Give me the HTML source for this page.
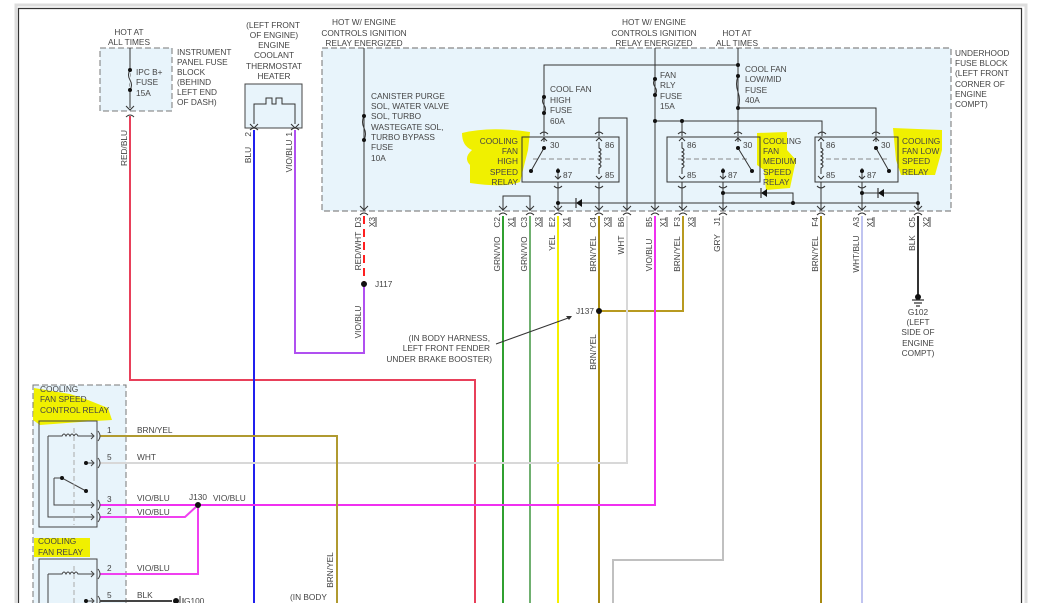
<!DOCTYPE html>
<html><head><meta charset="utf-8"><style>
html,body{margin:0;padding:0;background:#fff;}
svg{display:block;}
text{font-family:"Liberation Sans",sans-serif;font-size:8.3px;fill:#444;}
</style></head><body>
<svg width="1041" height="603" viewBox="0 0 1041 603" xmlns="http://www.w3.org/2000/svg">
<rect x="0" y="0" width="1041" height="603" fill="#fff"/>
<rect x="16" y="5" width="1010" height="600" fill="none" stroke="#ddd" stroke-width="3"/>
<path d="M18.5,603 V8.5 H1021.5 V603" fill="none" stroke="#333" stroke-width="1.2"/>

<rect x="100" y="48" width="72" height="63" fill="#e8f4fb" stroke="#777" stroke-dasharray="6,3"/>
<rect x="322" y="48" width="629" height="163" fill="#e8f4fb" stroke="#888" stroke-dasharray="6,3" stroke-width="1.2"/>
<rect x="245" y="84" width="57" height="44" fill="#e8f4fb" stroke="#444"/>
<rect x="33" y="385" width="93" height="220" fill="#e8f4fb" stroke="#777" stroke-dasharray="6,3"/>

<g fill="#f0f000">
<path d="M462,133 Q490,126 530,132 L528,150 L520,182 Q505,188 470,183 L470,165 Q463,158 472,150 Q462,146 462,133Z"/>
<path d="M757,133 L787,132 L787,150 L796,160 L790,188 L766,190 L764,170 L757,165Z"/>
<path d="M893,128 L942,130 L942,150 L935,175 L901,175 L896,160 Z"/>
<path d="M34,388 L70,394 L88,400 L108,408 L112,420 L80,422 L40,425 L33,420Z"/>
<path d="M34,538 L90,538 L90,557 L34,557Z"/>
</g>

<g fill="none" stroke-width="2">
<path d="M130,116 V380 H475 V603" stroke="#e8405a"/>
<path d="M254,130 V603" stroke="#2020ee"/>
<path d="M295,130 V353 H364 V284" stroke="#b050f0"/>
<path d="M364,216 V284" stroke="#ff2020" stroke-dasharray="8,5"/>
<path d="M503,216 V603" stroke="#30a030"/>
<path d="M530,216 V603" stroke="#70b070"/>
<path d="M558,216 V603" stroke="#f5f000"/>
<path d="M599,216 V603" stroke="#a88a10"/>
<path d="M599,311 H683 V216" stroke="#b89a20"/>
<path d="M627,216 V463 H100" stroke="#d8d8d8"/>
<path d="M655,216 V505 H100" stroke="#f030f0"/>
<path d="M723,216 V560 H613 V603" stroke="#c0c0c0"/>
<path d="M821,216 V603" stroke="#a88a10"/>
<path d="M862,216 V603" stroke="#c0c4f0"/>
<path d="M918,216 V297" stroke="#333"/>
<path d="M100,436 H337 V603" stroke="#b09a30"/>
<path d="M100,517 H185 L198,505 V574 H100" stroke="#f040f0"/>
<path d="M100,601 H172" stroke="#444"/>
</g>

<g fill="none" stroke="#333" stroke-width="1">
<path d="M130,48 V108"/>
<path d="M364,48 V211"/>
<path d="M655,48 V211"/>
<path d="M738,48 V136"/>
<path d="M544,136 V65 H738"/>
<path d="M738,108 H876 V136"/>
<path d="M655,121 H822 V136"/>
<path d="M682,121 V136"/>
<path d="M599,136 V118 H627 V211"/>
<path d="M503,211 V196 H530 V211"/>
<path d="M558,182 V211"/>
<path d="M599,182 V211"/>
<path d="M682,182 V211"/>
<path d="M723,182 V211"/>
<path d="M821,182 V211"/>
<path d="M862,182 V211"/>
<path d="M558,203 H918 V211"/>
<path d="M723,193 H793 V203"/>
<path d="M862,193 H918 V203"/>
</g>
<g fill="none" stroke="#333" stroke-width="1">
<path d="M130,70 q-3,5 0,10 q3,5 0,10" stroke="#e8f4fb" stroke-width="3"/>
<path d="M130,70 q-3,5 0,10 q3,5 0,10"/>
<path d="M364,116 q-3,6 0,12 q3,6 0,12"/>
<path d="M544,97 q-3,4 0,8 q3,4 0,8"/>
<path d="M655,79 q-3,4 0,8 q3,4 0,8"/>
<path d="M738,76 q-3,8 0,16 q3,8 0,16"/>
</g>
<g fill="#111">
<circle cx="130" cy="70" r="2"/><circle cx="130" cy="90" r="2"/>
<circle cx="364" cy="116" r="2"/><circle cx="364" cy="140" r="2"/>
<circle cx="544" cy="97" r="2"/><circle cx="544" cy="113" r="2"/>
<circle cx="655" cy="79" r="2"/><circle cx="655" cy="95" r="2"/><circle cx="655" cy="121" r="2"/><circle cx="682" cy="121" r="2"/>
<circle cx="738" cy="65" r="2"/><circle cx="738" cy="76" r="2"/><circle cx="738" cy="108" r="2"/>
<circle cx="558" cy="203" r="2"/><circle cx="793" cy="203" r="2"/><circle cx="918" cy="203" r="2"/>
<circle cx="723" cy="193" r="2"/><circle cx="862" cy="193" r="2"/>
<circle cx="364" cy="284" r="3"/><circle cx="599" cy="311" r="3"/><circle cx="198" cy="505" r="3"/>
<circle cx="918" cy="297" r="3"/>
<path d="M582,199 L582,207 L576,203Z"/><path d="M767,189 L767,197 L761,193Z"/><path d="M884,189 L884,197 L878,193Z"/>
</g>
<g stroke="#333" stroke-width="1.2"><path d="M576,198 V208"/><path d="M761,188 V198"/><path d="M878,188 V198"/>
<path d="M912,300 H924 M914,303 H922 M916,306 H920"/></g>

<g fill="none" stroke="#333" stroke-width="1">
<rect x="522" y="137" width="97" height="45"/>
<rect x="667" y="137" width="93" height="45"/>
<rect x="815" y="137" width="83" height="45"/>
<path d="M533,159 H610 M678,159 H750 M826,159 H890" stroke="#888" stroke-dasharray="5,3"/>
<path d="M544,148 L531,171 M738,148 L752,171 M876,148 L889,171"/>
<path d="M599,142 v6 q4,2 0,4 q4,2 0,4 q4,2 0,4 q4,2 0,4 q4,2 0,4 v6"/>
<path d="M682,142 v6 q4,2 0,4 q4,2 0,4 q4,2 0,4 q4,2 0,4 q4,2 0,4 v6"/>
<path d="M821,142 v6 q4,2 0,4 q4,2 0,4 q4,2 0,4 q4,2 0,4 q4,2 0,4 v6"/>
<path d="M544,137 v5 M558,168 v10 M723,168 v10 M862,168 v10 M738,137 v5 M876,137 v5"/>
<path d="M541,141 l3,-3 3,3 M596,141 l3,-3 3,3 M679,141 l3,-3 3,3 M735,141 l3,-3 3,3 M818,141 l3,-3 3,3 M873,141 l3,-3 3,3"/>
<path d="M555,176 l3,3 3,-3 M596,176 l3,3 3,-3 M679,176 l3,3 3,-3 M720,176 l3,3 3,-3 M818,176 l3,3 3,-3 M859,176 l3,3 3,-3"/>
<path d="M540,134 q4,-4 8,0 M595,134 q4,-4 8,0 M678,134 q4,-4 8,0 M734,134 q4,-4 8,0 M818,134 q4,-4 8,0 M872,134 q4,-4 8,0"/>
<path d="M554,186 q4,4 8,0 M595,186 q4,4 8,0 M678,186 q4,4 8,0 M719,186 q4,4 8,0 M817,186 q4,4 8,0 M858,186 q4,4 8,0"/>
</g>
<g fill="#111"><circle cx="544" cy="148" r="2"/><circle cx="531" cy="171" r="2"/><circle cx="558" cy="171" r="2"/>
<circle cx="738" cy="148" r="2"/><circle cx="752" cy="171" r="2"/><circle cx="723" cy="171" r="2"/>
<circle cx="876" cy="148" r="2"/><circle cx="889" cy="171" r="2"/><circle cx="862" cy="171" r="2"/></g>

<g fill="none" stroke="#333" stroke-width="1">
<path d="M360,206 l4,4 4,-4 M360,215 q4,-4 8,0 M499,206 l4,4 4,-4 M499,215 q4,-4 8,0 M526,206 l4,4 4,-4 M526,215 q4,-4 8,0 M554,206 l4,4 4,-4 M554,215 q4,-4 8,0 M595,206 l4,4 4,-4 M595,215 q4,-4 8,0 M623,206 l4,4 4,-4 M623,215 q4,-4 8,0 M651,206 l4,4 4,-4 M651,215 q4,-4 8,0 M679,206 l4,4 4,-4 M679,215 q4,-4 8,0 M719,206 l4,4 4,-4 M719,215 q4,-4 8,0 M817,206 l4,4 4,-4 M817,215 q4,-4 8,0 M858,206 l4,4 4,-4 M858,215 q4,-4 8,0 M914,206 l4,4 4,-4 M914,215 q4,-4 8,0"/>
<path d="M126,106 l4,4 4,-4 M126,117 q4,-4 8,0"/>
<path d="M250,124 l4,4 4,-4 M250,130 q4,-4 8,0 M291,124 l4,4 4,-4 M291,130 q4,-4 8,0"/>
<path d="M254,124 V104 H266 V98 H272 V104 H276 V98 H282 V104 H295 V124"/>
<path d="M496,344 L571,317"/>
</g>
<path d="M572,316 l-6,0 3,4z" fill="#333"/>

<g fill="none" stroke="#444" stroke-width="1">
<rect x="39" y="421" width="58" height="106"/>
<rect x="39" y="559" width="58" height="50"/>
<path d="M48,436 H62 q2,-4 4,0 q2,-4 4,0 q2,-4 4,0 q2,-4 4,0 H94 M91,433 l3,3 -3,3"/>
<path d="M48,436 V517 H94 M91,514 l3,3 -3,3"/>
<path d="M54,478 V505 H94 M91,502 l3,3 -3,3"/>
<path d="M54,478 H62 L86,491"/>
<path d="M86,463 H94 M91,460 l3,3 -3,3"/>
<path d="M48,574 H62 q2,-4 4,0 q2,-4 4,0 q2,-4 4,0 q2,-4 4,0 H94 M91,571 l3,3 -3,3 M48,574 V603"/>
<path d="M86,601 H94 M91,598 l3,3 -3,3"/>
<path d="M98,431 q4,5 0,10 M98,458 q4,5 0,10 M98,500 q4,5 0,10 M98,512 q4,5 0,10 M98,569 q4,5 0,10 M98,596 q4,5 0,10"/>
<path d="M74,428 V525 M74,566 V603" stroke="#aaa" stroke-dasharray="5,3"/>
</g>
<g fill="#111"><circle cx="62" cy="478" r="2"/><circle cx="86" cy="491" r="2"/><circle cx="86" cy="463" r="2"/><circle cx="86" cy="601" r="2"/><circle cx="176" cy="601" r="3"/></g>
<path d="M180,596 V606 M183,598 V604" stroke="#333"/>

<g text-anchor="middle">
<text x="129" y="35">HOT AT</text><text x="129" y="45">ALL TIMES</text>
<text x="273" y="28">(LEFT FRONT</text><text x="274" y="38">OF ENGINE)</text><text x="274" y="48">ENGINE</text><text x="274" y="58">COOLANT</text><text x="274" y="69">THERMOSTAT</text><text x="274" y="79">HEATER</text>
<text x="364" y="25">HOT W/ ENGINE</text><text x="364" y="36">CONTROLS IGNITION</text><text x="364" y="46">RELAY ENERGIZED</text>
<text x="654" y="25">HOT W/ ENGINE</text><text x="654" y="36">CONTROLS IGNITION</text><text x="654" y="46">RELAY ENERGIZED</text>
<text x="737" y="36">HOT AT</text><text x="737" y="46">ALL TIMES</text>
<text x="918" y="315">G102</text><text x="918" y="325">(LEFT</text><text x="918" y="335">SIDE OF</text><text x="918" y="346">ENGINE</text><text x="918" y="356">COMPT)</text>
</g>
<text x="177" y="55">INSTRUMENT</text><text x="177" y="65">PANEL FUSE</text><text x="177" y="75">BLOCK</text><text x="177" y="85">(BEHIND</text><text x="177" y="95">LEFT END</text><text x="177" y="105">OF DASH)</text>
<text x="136" y="75">IPC B+</text><text x="136" y="85">FUSE</text><text x="136" y="96">15A</text>
<text x="371" y="99">CANISTER PURGE</text><text x="371" y="109">SOL, WATER VALVE</text><text x="371" y="119">SOL, TURBO</text><text x="371" y="130">WASTEGATE SOL,</text><text x="371" y="140">TURBO BYPASS</text><text x="371" y="150">FUSE</text><text x="371" y="161">10A</text>
<text x="550" y="92">COOL FAN</text><text x="550" y="103">HIGH</text><text x="550" y="113">FUSE</text><text x="550" y="124">60A</text>
<text x="660" y="78">FAN</text><text x="660" y="88">RLY</text><text x="660" y="99">FUSE</text><text x="660" y="109">15A</text>
<text x="745" y="72">COOL FAN</text><text x="745" y="82">LOW/MID</text><text x="745" y="93">FUSE</text><text x="745" y="103">40A</text>
<text x="955" y="56">UNDERHOOD</text><text x="955" y="66">FUSE BLOCK</text><text x="955" y="76">(LEFT FRONT</text><text x="955" y="87">CORNER OF</text><text x="955" y="97">ENGINE</text><text x="955" y="107">COMPT)</text>
<g text-anchor="end"><text x="518" y="144">COOLING</text><text x="518" y="154">FAN</text><text x="518" y="164">HIGH</text><text x="518" y="175">SPEED</text><text x="518" y="185">RELAY</text>
<text x="490" y="341">(IN BODY HARNESS,</text><text x="490" y="351">LEFT FRONT FENDER</text><text x="492" y="362">UNDER BRAKE BOOSTER)</text></g>
<text x="763" y="144">COOLING</text><text x="763" y="154">FAN</text><text x="763" y="164">MEDIUM</text><text x="763" y="175">SPEED</text><text x="763" y="185">RELAY</text>
<text x="902" y="144">COOLING</text><text x="902" y="154">FAN LOW</text><text x="902" y="164">SPEED</text><text x="902" y="175">RELAY</text>
<text x="550" y="148">30</text><text x="563" y="178">87</text><text x="605" y="148">86</text><text x="605" y="178">85</text>
<text x="687" y="148">86</text><text x="687" y="178">85</text><text x="743" y="148">30</text><text x="728" y="178">87</text>
<text x="826" y="148">86</text><text x="826" y="178">85</text><text x="881" y="148">30</text><text x="867" y="178">87</text>
<text x="375" y="287">J117</text><text x="576" y="314">J137</text><text x="189" y="500">J130</text>
<text x="40" y="392">COOLING</text><text x="40" y="402">FAN SPEED</text><text x="40" y="413">CONTROL RELAY</text>
<text x="38" y="544">COOLING</text><text x="38" y="555">FAN RELAY</text>
<text x="107" y="433">1</text><text x="107" y="460">5</text><text x="107" y="502">3</text><text x="107" y="514">2</text><text x="107" y="571">2</text><text x="107" y="598">5</text>
<text x="137" y="433">BRN/YEL</text><text x="137" y="460">WHT</text><text x="137" y="501">VIO/BLU</text><text x="137" y="515">VIO/BLU</text><text x="137" y="571">VIO/BLU</text><text x="137" y="598">BLK</text>
<text x="213" y="501">VIO/BLU</text><text x="184" y="604">G100</text><text x="290" y="600">(IN BODY</text>

<g text-anchor="middle">
<text transform="translate(127,148) rotate(-90)">RED/BLU</text>
<text transform="translate(251,155) rotate(-90)">BLU</text>
<text transform="translate(292,156) rotate(-90)">VIO/BLU</text>
<text transform="translate(361,251) rotate(-90)">RED/WHT</text>
<text transform="translate(361,322) rotate(-90)">VIO/BLU</text>
<text transform="translate(500,254) rotate(-90)">GRN/VIO</text>
<text transform="translate(527,254) rotate(-90)">GRN/VIO</text>
<text transform="translate(555,243) rotate(-90)">YEL</text>
<text transform="translate(596,254) rotate(-90)">BRN/YEL</text>
<text transform="translate(624,245) rotate(-90)">WHT</text>
<text transform="translate(652,255) rotate(-90)">VIO/BLU</text>
<text transform="translate(680,254) rotate(-90)">BRN/YEL</text>
<text transform="translate(720,243) rotate(-90)">GRY</text>
<text transform="translate(818,254) rotate(-90)">BRN/YEL</text>
<text transform="translate(859,254) rotate(-90)">WHT/BLU</text>
<text transform="translate(915,243) rotate(-90)">BLK</text>
<text transform="translate(596,352) rotate(-90)">BRN/YEL</text>
<text transform="translate(333,570) rotate(-90)">BRN/YEL</text>
</g>
<g text-anchor="end">
<text transform="translate(251,132) rotate(-90)">2</text><text transform="translate(292,132) rotate(-90)">1</text>
<text transform="translate(361,217) rotate(-90)">D3</text><text transform="translate(375,217) rotate(-90)">X3</text>
<text transform="translate(500,217) rotate(-90)">C2</text><text transform="translate(514,217) rotate(-90)">X1</text>
<text transform="translate(527,217) rotate(-90)">C3</text><text transform="translate(541,217) rotate(-90)">X3</text>
<text transform="translate(555,217) rotate(-90)">E2</text><text transform="translate(569,217) rotate(-90)">X1</text>
<text transform="translate(596,217) rotate(-90)">C4</text><text transform="translate(610,217) rotate(-90)">X3</text>
<text transform="translate(624,217) rotate(-90)">B6</text>
<text transform="translate(652,217) rotate(-90)">B5</text><text transform="translate(666,217) rotate(-90)">X1</text>
<text transform="translate(680,217) rotate(-90)">F3</text><text transform="translate(694,217) rotate(-90)">X3</text>
<text transform="translate(720,217) rotate(-90)">J1</text>
<text transform="translate(818,217) rotate(-90)">F4</text>
<text transform="translate(859,217) rotate(-90)">A3</text><text transform="translate(873,217) rotate(-90)">X1</text>
<text transform="translate(915,217) rotate(-90)">C5</text><text transform="translate(929,217) rotate(-90)">X2</text>
</g>
<g stroke="#444" stroke-width="1"><path d="M376,217 V227 M515,217 V227 M542,217 V227 M570,217 V227 M611,217 V227 M667,217 V227 M695,217 V227 M874,217 V227 M930,217 V227"/></g>
</svg>
</body></html>
